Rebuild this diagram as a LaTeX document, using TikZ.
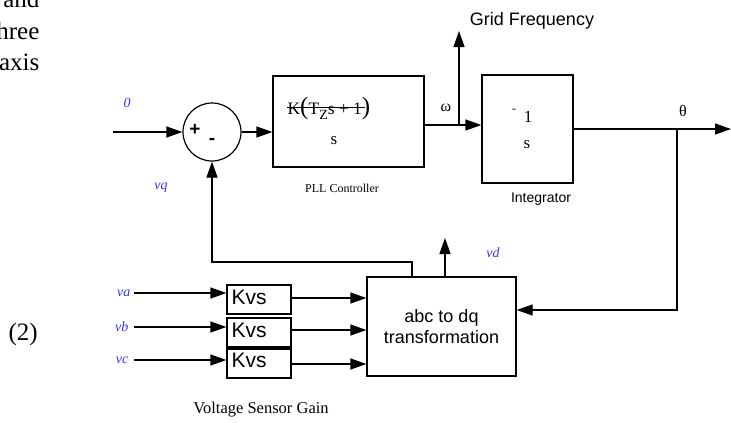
\documentclass[tikz,border=0pt]{standalone}
\usepackage{fontspec}
\setmainfont{Liberation Serif}
\setsansfont{Liberation Sans}
\usetikzlibrary{arrows.meta}
\definecolor{lblue}{RGB}{51,51,255}
\tikzset{
  blk/.style={draw, inner sep=0pt},
  conn/.style={line width=1.2pt},
  arr/.style={conn, -{Triangle[length=16pt,width=11pt]}},
  sig/.style={text=lblue, font=\itshape\fontsize{14}{14}\selectfont, inner sep=0pt},
  para/.style={font=\fontsize{25}{25}\selectfont, inner sep=0pt},
  sans/.style={font=\sffamily\fontsize{18}{18}\selectfont, inner sep=0pt},
  greek/.style={font=\fontsize{16}{16}\selectfont, inner sep=0pt},
}
\begin{document}
\begin{tikzpicture}[x=1pt,y=-1pt, line width=1.2pt]
\useasboundingbox (0,0) rectangle (731,423);
% paragraph fragments
\node[para, anchor=base east] (p1) at (40,8) {and};
\node[para, anchor=base east] (p2) at (40,39) {hree};
\node[para, anchor=base east] (p3) at (40,70) {axis};
\node[para, anchor=base west] (eq) at (8,340) {(2)};
% blocks
\node[blk, circle, minimum size=58pt] (sum) at (212,132) {};
\node[font=\sffamily\bfseries\fontsize{19}{19}\selectfont, inner sep=0pt] (plus) at (195,130) {+};
\node[font=\sffamily\bfseries\fontsize{19}{19}\selectfont, inner sep=0pt] (minus) at (212,141) {-};
\node[blk, minimum width=151pt, minimum height=91pt] (pll) at (348.5,121.5) {};
\node[blk, minimum width=91pt, minimum height=108pt] (int) at (527.5,129) {};
\node[blk, minimum width=149pt, minimum height=99pt, align=center,
      font=\sffamily\fontsize{18}{21}\selectfont] (abc) at (441.5,326.5) {abc to dq\\transformation};
\node[blk, minimum width=64pt, minimum height=29pt] (kva) at (259,299.5) {};
\node[blk, minimum width=64pt, minimum height=29pt] (kvb) at (259,332.5) {};
\node[blk, minimum width=64pt, minimum height=29pt] (kvc) at (259,363.5) {};
\node[font=\sffamily\fontsize{21}{21}\selectfont, inner sep=0pt, anchor=base west] (ta) at (231,304) {Kvs};
\node[font=\sffamily\fontsize{21}{21}\selectfont, inner sep=0pt, anchor=base west] (tb) at (231,337) {Kvs};
\node[font=\sffamily\fontsize{21}{21}\selectfont, inner sep=0pt, anchor=base west] (tc) at (231,367) {Kvs};
% PLL transfer function
\node[inner sep=0pt, anchor=base west, font=\fontsize{17.5}{17.5}\selectfont] (num) at (287,114)
  {K{\fontsize{25}{25}\selectfont(}T\raisebox{-5pt}{\fontsize{14}{14}\selectfont Z}s + 1{\fontsize{25}{25}\selectfont)}};
\draw[line width=0.9pt] ([xshift=0pt]num.west |- 0,107) -- ([xshift=-6pt]num.east |- 0,107);
\node[inner sep=0pt, font=\fontsize{17}{17}\selectfont] (den) at (334,141) {s};
% integrator text
\node[inner sep=0pt, font=\fontsize{12}{12}\selectfont] (im) at (514,111) {-};
\node[inner sep=0pt, font=\fontsize{17}{17}\selectfont] (i1) at (528,117) {1};
\node[inner sep=0pt, font=\fontsize{17}{17}\selectfont] (is) at (527,145) {s};
% labels
\node[sans] (gf) at (532,21) {Grid Frequency};
\node[inner sep=0pt, font=\sffamily\fontsize{14}{14}\selectfont] (intl) at (541,199) {Integrator};
\node[inner sep=0pt, font=\fontsize{12}{12}\selectfont] (pllc) at (342,188) {PLL Controller};
\node[inner sep=0pt, font=\fontsize{16.5}{16.5}\selectfont] (vsg) at (261,410) {Voltage Sensor Gain};
\node[greek] (om) at (446,108) {ω};
\node[greek] (th) at (683,111) {θ};
\node[sig] (l0) at (127,103) {0};
\node[sig] (lq) at (161,188) {vq};
\node[sig] (ld) at (493,253) {vd};
\node[sig, anchor=east] (la) at (131,293) {va};
\node[sig, anchor=east] (lb) at (129,327) {vb};
\node[sig, anchor=east] (lc) at (129,360) {vc};
% coordinates
\coordinate (in0) at (113,132);
\coordinate (w) at (459,125);
\coordinate (wtop) at (459,31);
\coordinate (tp) at (677,129);
\coordinate (out) at (731,129);
\coordinate (fb) at (677,310);
\coordinate (vdt) at (445,238);
\coordinate (q1) at (412,262);
\coordinate (ia) at (134,293);
\coordinate (ib) at (134,327);
\coordinate (ic) at (134,360);
% connectors
\draw[arr] (in0) -- (sum.west);
\draw[arr] (sum.east) -- (pll.west |- sum.east);
\draw[conn] (pll.east |- w) -- (w);
\draw[arr] (w) -- (int.west |- w);
\draw[arr] (w) -- (wtop);
\draw[arr] (int.east) -- (out);
\draw[arr] (tp) -- (fb) -- (abc.east |- fb);
\draw[arr] (vdt |- abc.north) -- (vdt);
\draw[arr] (q1 |- abc.north) -- (q1) -| (sum.south);
\draw[arr] (ia) -- (kva.west |- ia);
\draw[arr] (ib) -- (kvb.west |- ib);
\draw[arr] (ic) -- (kvc.west |- ic);
\draw[arr] (kva.east |- 0,298) -- (abc.west |- 0,298);
\draw[arr] (kvb.east |- 0,330) -- (abc.west |- 0,330);
\draw[arr] (kvc.east |- 0,364) -- (abc.west |- 0,364);
\end{tikzpicture}
\end{document}
